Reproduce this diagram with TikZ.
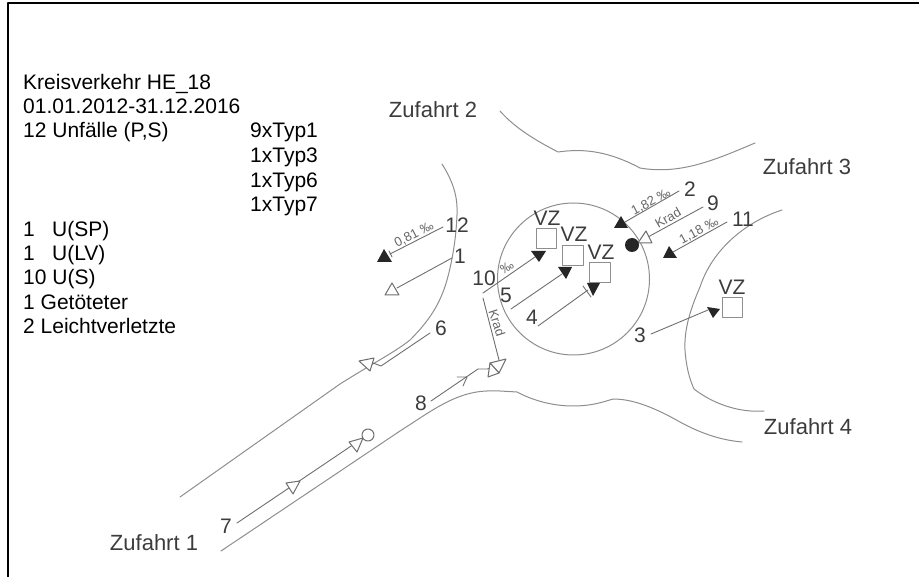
\documentclass[tikz,border=0pt]{standalone}
\usepackage{fontspec}
\setmainfont{Liberation Sans}
\definecolor{road}{HTML}{8E8E8E}
\definecolor{trackgrey}{HTML}{6E6E6E}
\definecolor{ink}{HTML}{3C3C3C}
\definecolor{tag}{HTML}{666666}

\begin{document}
\begin{tikzpicture}[
  x=1pt, y=-1pt,
  line join=round, line cap=round,
  edge/.style={line width=1pt, road},
  arrowline/.style={line width=0.9pt, trackgrey},
  hollowtip/.style={line width=1pt, trackgrey, fill=white},
  solidtip/.style={fill=black!85},
  frameline/.style={line width=2pt, black},
  lbl/.style={font=\fontsize{21}{24}\selectfont, text=black, anchor=base west, inner sep=0pt},
  num/.style={font=\fontsize{21}{24}\selectfont, text=ink, inner sep=0pt},
  armname/.style={font=\fontsize{22}{24}\selectfont, text=ink, inner sep=0pt},
  tagtext/.style={font=\fontsize{13}{15}\selectfont, text=tag, inner sep=0pt},
  sign/.style={line width=1pt, road, fill=white},
]
\useasboundingbox (0,0) rectangle (919,577);

% ── the frame, open on two sides ──────────────────────────────────────────
\draw[frameline] (8,577) -- (8,3.5) -- (919,3.5);

% ── the text block on the left ────────────────────────────────────────────
\node[lbl] (title) at (23,90) {Kreisverkehr HE\_18};
\node[lbl] (period) at (23,114) {01.01.2012-31.12.2016};
\node[lbl] (total) at (23,138) {12 Unfälle (P,S)};
\node[lbl] (typa) at (250,138) {9xTyp1};
\node[lbl] (typb) at (250,163) {1xTyp3};
\node[lbl] (typc) at (250,188) {1xTyp6};
\node[lbl] (typd) at (250,212) {1xTyp7};
\node[lbl] (usp) at (23,237) {1};
\node[lbl] (usptext) at (52,237) {U(SP)};
\node[lbl] (ulv) at (23,261) {1};
\node[lbl] (ulvtext) at (52,261) {U(LV)};
\node[lbl] (us) at (23,285) {10 U(S)};
\node[lbl] (dead) at (23,310) {1 Getöteter};
\node[lbl] (hurt) at (23,334) {2 Leichtverletzte};

% ── the roads and the roundabout ──────────────────────────────────────────
\draw[edge] (573.5,279) circle (76);
\draw[edge] (442,164) .. controls (452,180) and (458,195) .. (457,215)
  .. controls (456,240) and (452,262) .. (447,280)
  .. controls (440,305) and (428,322) .. (410,340)
  .. controls (395,352) and (375,362) .. (340,384) -- (180,497);
\draw[edge] (221,551) -- (400,431) .. controls (430,412) and (455,392) .. (487,391)
  -- (500,391) -- (517,392) .. controls (530,399) and (550,406) .. (573,406)
  .. controls (590,406) and (600,403) .. (613,399)
  .. controls (630,399) and (650,405) .. (680,422)
  .. controls (700,433) and (720,440) .. (742,442);
\draw[edge] (500,111) .. controls (515,128) and (535,140) .. (558,152)
  .. controls (585,148) and (610,152) .. (640,168)
  .. controls (680,175) and (715,160) .. (755,143);
\draw[edge] (782,210) .. controls (745,222) and (712,250) .. (700,287)
  .. controls (690,310) and (684,330) .. (685,350)
  .. controls (686,365) and (689,378) .. (694,389)
  .. controls (712,403) and (738,413) .. (764,411);

% ── the accidents outside the circle ──────────────────────────────────────
\draw[arrowline] (443,227) -- (390,254);
\draw[arrowline] (389,251) -- (392,257);
\fill[solidtip] (377,262) -- (392,262) -- (384,249) -- cycle;
\node[num] (n12) at (457,225) {12};
\node[tagtext, rotate=27] (slopea) at (414,235) {0,81 ‰};

\draw[arrowline] (452,258) -- (397,288);
\draw[hollowtip] (385,295) -- (399,295) -- (392,283) -- cycle;
\node[num] (n1) at (460,256) {1};

\draw[arrowline] (679,191) -- (625,222);
\fill[solidtip] (614,228) -- (628,228) -- (621,216) -- cycle;
\node[num] (n2) at (690,189) {2};
\node[tagtext, rotate=28] (slopeb) at (651,202) {1,82 ‰};

\draw[arrowline] (703,207) -- (648,237);
\draw[hollowtip] (638,243) -- (652,243) -- (646,231) -- cycle;
\fill[solidtip] (632,245) circle (7);
\node[num] (n9) at (713,203) {9};
\node[tagtext, rotate=30] (kradb) at (668,218) {Krad};

\draw[arrowline] (727,222) -- (673,252);
\fill[solidtip] (663,258) -- (677,258) -- (669,246) -- cycle;
\node[num] (n11) at (743,219) {11};
\node[tagtext, rotate=28] (slopec) at (699,231) {1,18 ‰};

\draw[arrowline] (651,334) -- (708,310);
\fill[solidtip] (707,307) -- (720,309) -- (713,318) -- cycle;
\draw[sign] (722,298) rectangle (742,318);
\node[num] (vzd) at (732,287) {VZ};
\node[num] (n3) at (640,335) {3};

% ── the accidents inside the circle ───────────────────────────────────────
\draw[arrowline] (483,293) -- (535,257);
\fill[solidtip] (531,251) -- (546,251) -- (539,262) -- cycle;
\draw[sign] (536,229) rectangle (556,249);
\node[num] (vza) at (547,218) {VZ};
\node[num] (n10) at (484,278) {10};
\node[tagtext, rotate=33] (permil) at (507,267) {‰};

\draw[arrowline] (511,309) -- (562,274);
\fill[solidtip] (558,267) -- (572,267) -- (566,279) -- cycle;
\draw[sign] (562,246) rectangle (583,266);
\node[num] (vzb) at (574,234) {VZ};
\node[num] (n5) at (506,295) {5};

\draw[arrowline] (538,326) -- (588,290);
\draw[arrowline] (583,286) -- (591,297);
\fill[solidtip] (587,283) -- (600,283) -- (593,296) -- cycle;
\draw[sign] (589,263) rectangle (610,283);
\node[num] (vzc) at (601,252) {VZ};
\node[num] (n4) at (532,317) {4};

% ── the accidents on the way in from Zufahrt 1 ────────────────────────────
\draw[arrowline] (430,333) -- (381,366) -- (373,363);
\draw[hollowtip] (359,361) -- (374,358) -- (370,371) -- cycle;
\node[num] (n6) at (441,328) {6};

\draw[arrowline] (431,401) -- (478,369) -- (487,369) -- (492,368);
\draw[arrowline] (457,377) -- (467,377) -- (463,386);
\draw[arrowline] (483,298) -- (499,360);
\draw[hollowtip] (490,363) -- (506,359) -- (499,373) -- cycle;
\draw[hollowtip] (490,363) -- (488,377) -- (499,373) -- cycle;
\node[num] (n8) at (421,403) {8};
\node[tagtext, rotate=-72] (krada) at (497,323) {Krad};

\draw[arrowline] (237,523) -- (363,438);
\draw[hollowtip] (286,483) -- (300,481) -- (293,494) -- cycle;
\draw[hollowtip] (349,442) -- (363,438) -- (357,452) -- cycle;
\draw[hollowtip] (368,435) circle (6);
\node[num] (n7) at (226,526) {7};

% ── the names of the four arms ────────────────────────────────────────────
\node[armname] (armone) at (154,543) {Zufahrt 1};
\node[armname] (armtwo) at (433,110) {Zufahrt 2};
\node[armname] (armthree) at (807,167) {Zufahrt 3};
\node[armname] (armfour) at (808,427) {Zufahrt 4};

\end{tikzpicture}
\end{document}
